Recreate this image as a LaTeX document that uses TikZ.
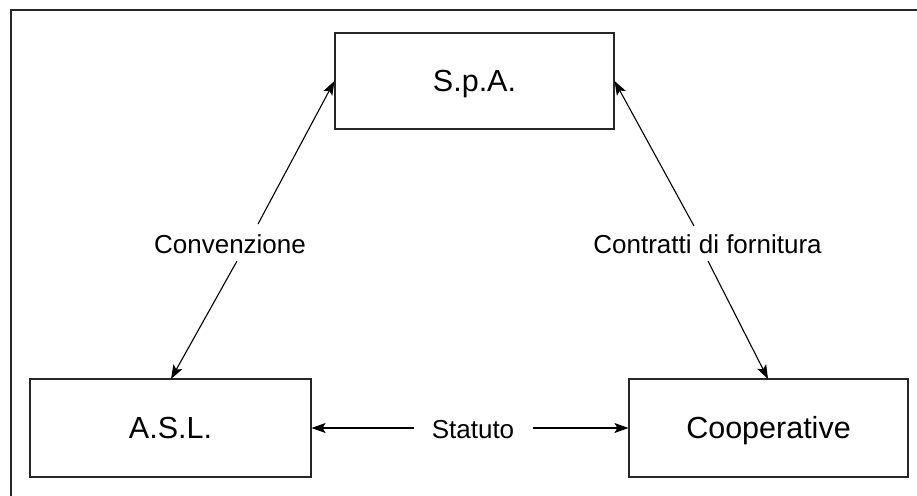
\documentclass[tikz,border=0pt]{standalone}
\usepackage{fontspec}
\setmainfont{Liberation Sans}
\usetikzlibrary{arrows.meta}
\begin{document}
\begin{tikzpicture}[x=1pt,y=-1pt,
  entity/.style={draw=black!85,line width=1.1pt,minimum width=279pt,minimum height=96pt,
    inner sep=0pt,text height=21.8pt,text depth=0pt,font=\fontsize{30.5}{34}\selectfont},
  rel/.style={font=\fontsize{26}{30}\selectfont,inner sep=0pt,text height=18.6pt,text depth=0pt},
  link/.style={line width=1.1pt,-{Stealth[length=14pt,width=10pt,inset=3pt]}}]
\useasboundingbox (0,0) rectangle (917,495);
% outer frame, open towards the right and the bottom
\draw[line width=1.1pt,black!85] (11,497) -- (11,10) -- (919,10);

% the three parties
\node[entity] (spa) at (474.5,81) {S.p.A.};
\node[entity,minimum width=281pt,minimum height=98pt] (asl) at (170.5,428) {A.S.L.};
\node[entity,minimum height=98pt] (coop) at (768.5,428) {Cooperative};

% relation labels
\node[rel] (conv) at (230,244) {Convenzione};
\node[rel] (contr) at (707.5,244) {Contratti di fornitura};
\node[rel] (stat) at (473,429.5) {Statuto};

% label ends of the connectors
\coordinate (c1) at (258,224);
\coordinate (c2) at (237,261);
\coordinate (f1) at (694,226);
\coordinate (f2) at (708,261);
\coordinate (s1) at (414,428);
\coordinate (s2) at (533,428);

\draw[link] (c1) -- (spa.west);
\draw[link] (c2) -- (171,379) coordinate (aslin);
\draw[link] (f1) -- (spa.east);
\draw[link] (f2) -- (768,379) coordinate (coopin);
\draw[link] (s1) -- (asl.east);
\draw[link] (s2) -- (coop.west);
\end{tikzpicture}
\end{document}
